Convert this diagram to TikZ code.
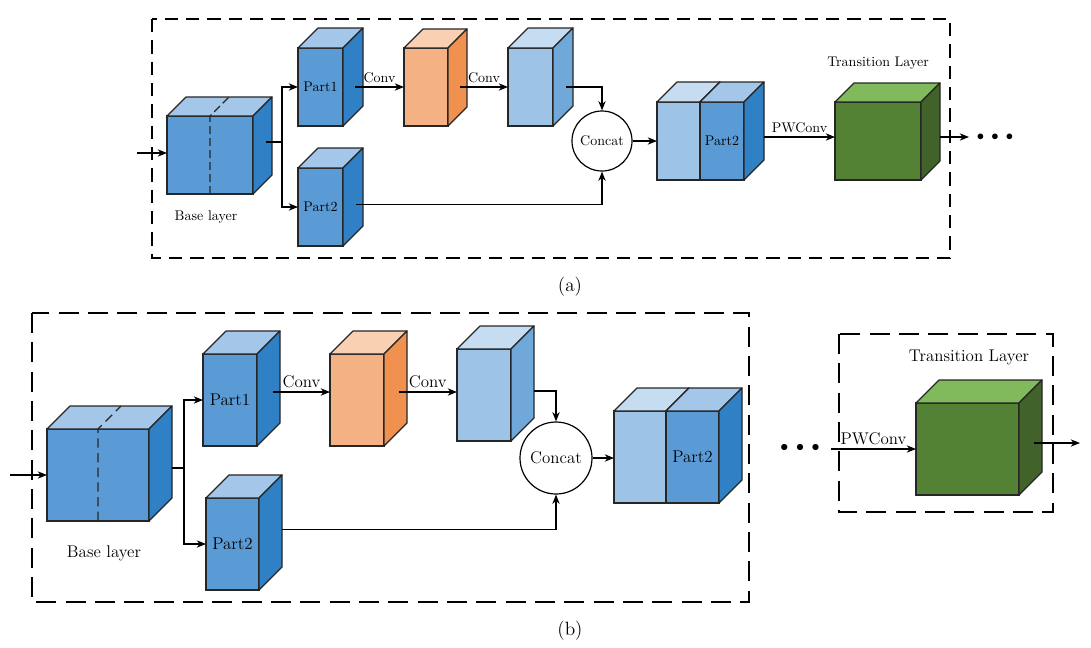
\documentclass[tikz,border=0pt]{standalone}
\usepackage{tikz}
\usetikzlibrary{arrows.meta}

\definecolor{bluefront}{HTML}{5B9BD5}
\definecolor{bluetop}{HTML}{A3C6E9}
\definecolor{blueside}{HTML}{3080C6}
\definecolor{palebluefront}{HTML}{9DC3E6}
\definecolor{palebluetop}{HTML}{C6DCF1}
\definecolor{paleblueside}{HTML}{70A8DA}
\definecolor{orangefront}{HTML}{F4B183}
\definecolor{orangetop}{HTML}{F9D0B2}
\definecolor{orangeside}{HTML}{F0914F}
\definecolor{greenfront}{HTML}{548235}
\definecolor{greentop}{HTML}{80BA5C}
\definecolor{greenside}{HTML}{41632A}

% front face as a named node, top and side faces drawn from its corners
% #1 name, #2 x, #3 y, #4 width, #5 height, #6 depth, #7 colour family, #8 text
\newcommand{\drawcube}[8]{%
  \node[cubefront, fill=#7front, minimum width=#4*0.75pt, minimum height=#5*0.75pt] (#1) at (#2,#3) {#8};
  \draw[facet, fill=#7top] (#1.north west) -- ++(#6,-#6) -- ++(#4,0) -- (#1.north east) -- cycle;
  \draw[facet, fill=#7side] (#1.north east) -- ++(#6,-#6) -- ++(0,#5) -- (#1.south east) -- cycle;
}

\begin{document}
\begin{tikzpicture}[
    x=0.75pt, y=-0.75pt,
    >={Stealth[length=7pt,width=5.5pt]},
    cubefront/.style={draw=black!85, line width=0.9pt, inner sep=0pt, outer sep=0pt},
    facet/.style={draw=black!85, line width=0.9pt, line join=round},
    conn/.style={draw, line width=0.8pt},
    arr/.style={conn, ->},
    catnode/.style={circle, draw, line width=0.9pt, fill=white, inner sep=0pt},
    lbl/.style={inner sep=1pt}
  ]
  \useasboundingbox (0,0) rectangle (1091,647);

  % ===== (a) =====
  \begin{scope}[font=\fontsize{10.5}{12.5}\selectfont]
    \draw[line width=0.8pt, dash pattern=on 10pt off 6pt] (152,19) rectangle (950,258);

    \drawcube{base_a}{210}{155}{86}{78}{19}{blue}{}
    \draw[facet, dash pattern=on 6pt off 3pt] (base_a.south) -- (base_a.north) -- ++(19,-19);
    \node[lbl] (bl_a) at (206,217) {Base layer};

    \drawcube{p1_a}{320.5}{87}{45}{78}{20}{blue}{Part1}
    \drawcube{p2_a}{320.5}{207}{45}{78}{20}{blue}{Part2}
    \drawcube{or_a}{426}{87}{44}{78}{19}{orange}{}
    \drawcube{lb_a}{530.5}{87}{45}{78}{20}{paleblue}{}
    \node[catnode, minimum size=60*0.75pt] (cc_a) at (602,141) {Concat};
    \drawcube{s1_a}{678.5}{141}{43}{78}{20}{paleblue}{}
    \drawcube{s2_a}{722}{141}{44}{78}{20}{blue}{Part2}
    \drawcube{gr_a}{878}{141}{86}{78}{19}{green}{}
    \node[lbl] (tl_a) at (878,63) {Transition Layer};
    \node[inner sep=0pt] (dots_a) at (995,137) {$\bullet\hspace{3pt}\bullet\hspace{3pt}\bullet$};

    \coordinate (in_a) at (137,153);
    \coordinate (br_a) at (282,142);
    \coordinate (out_a) at (969,137);

    \draw[arr] (in_a) -- (in_a -| base_a.west);
    \draw[conn] ([xshift=10pt]br_a -| base_a.east) -- (br_a);
    \draw[arr] (br_a) |- (p1_a.west);
    \draw[arr] (br_a) |- (p2_a.west);
    \draw[arr] ([xshift=9pt]p1_a.east) -- node[above, lbl, yshift=2pt] {Conv} (or_a.west);
    \draw[arr] ([xshift=9pt]or_a.east) -- node[above, lbl, yshift=2pt] {Conv} (lb_a.west);
    \draw[arr] ([xshift=10pt]lb_a.east) -| (cc_a.north);
    \draw[arr] ([xshift=10pt,yshift=2pt]p2_a.east) -| (cc_a.south);
    \draw[arr] (cc_a.east) -- (cc_a.east -| s1_a.west);
    \draw[arr] ([xshift=15pt,yshift=3pt]s2_a.east) -- node[above, lbl, yshift=2pt] {PWConv} ([yshift=3pt]gr_a.west);
    \draw[arr] ([xshift=14pt,yshift=3pt]gr_a.east) -- (out_a);
  \end{scope}
  \node (cap_a) at (570,287) {\Large (a)};

  % ===== (b) =====
  \begin{scope}[font=\fontsize{12.7}{15}\selectfont]
    \draw[line width=0.8pt, dash pattern=on 15pt off 7pt] (32,313) rectangle (749,602);

    \drawcube{base_b}{98}{475}{102}{92}{23}{blue}{}
    \draw[facet, dash pattern=on 7pt off 4pt] (base_b.south) -- (base_b.north) -- ++(23,-23);
    \node[lbl] (bl_b) at (104,553) {Base layer};

    \drawcube{p1_b}{230}{400}{54}{92}{23}{blue}{Part1}
    \drawcube{p2_b}{232.5}{544}{53}{92}{23}{blue}{Part2}
    \drawcube{or_b}{357}{400}{54}{92}{23}{orange}{}
    \drawcube{lb_b}{484}{395}{54}{92}{23}{paleblue}{}
    \node[catnode, minimum size=72*0.75pt] (cc_b) at (556,458) {Concat};
    \drawcube{s1_b}{640}{457}{52}{92}{23}{paleblue}{}
    \drawcube{s2_b}{692.5}{457}{53}{92}{23}{blue}{Part2}

    \node[inner sep=0pt] (dots_b) at (800,448) {$\bullet\hspace{3pt}\bullet\hspace{3pt}\bullet$};

    \draw[line width=0.8pt, dash pattern=on 15pt off 7pt] (839,334) rectangle (1053,512);
    \node[lbl] (tl_b) at (969,357) {Transition Layer};
    \drawcube{gr_b}{967.5}{449}{103}{92}{23}{green}{}

    \coordinate (in_b) at (10,475);
    \coordinate (br_b) at (184,468);
    \coordinate (pw_b) at (831,449);
    \coordinate (out_b) at (1080,443);

    \draw[arr] (in_b) -- (base_b.west);
    \draw[conn] ([xshift=17pt]br_b -| base_b.east) -- (br_b);
    \draw[arr] (br_b) |- (p1_b.west);
    \draw[arr] (br_b) |- (p2_b.west);
    \draw[arr] ([xshift=12pt,yshift=6pt]p1_b.east) -- node[above, lbl, yshift=2pt] {Conv} ([yshift=6pt]or_b.west);
    \draw[arr] ([xshift=11pt,yshift=6pt]or_b.east) -- node[above, lbl, yshift=2pt] {Conv} ([yshift=6pt]or_b.east -| lb_b.west);
    \draw[arr] ([xshift=17pt,yshift=3pt]lb_b.east) -| (cc_b.north);
    \draw[arr] ([xshift=17pt,yshift=11pt]p2_b.east) -| (cc_b.south);
    \draw[arr] (cc_b.east) -- (cc_b.east -| s1_b.west);
    \draw[arr] (pw_b) -- node[above, lbl, yshift=2pt] {PWConv} (gr_b.west);
    \draw[arr] ([xshift=11pt,yshift=4.5pt]gr_b.east) -- (out_b);
  \end{scope}
  \node (cap_b) at (570,631) {\Large (b)};
\end{tikzpicture}
\end{document}
